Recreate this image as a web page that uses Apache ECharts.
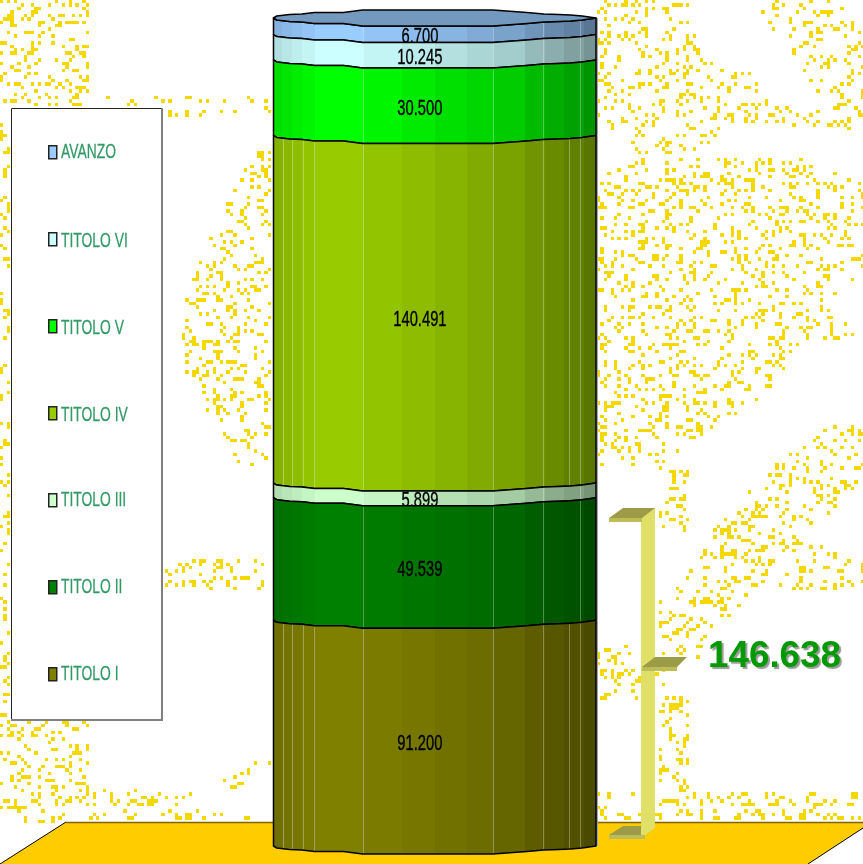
<!DOCTYPE html>
<html>
<head>
<meta charset="utf-8">
<style>
html,body{margin:0;padding:0;background:#fff;overflow:hidden}
#chart{width:863px;height:864px}
</style>
<script src="https://cdn.jsdelivr.net/npm/echarts@6/dist/echarts.min.js"></script>
</head>
<body>
<div id="chart"></div>
<script>
// data, top of the stack first so the legend reads like the picture
var names = ['AVANZO','TITOLO VI','TITOLO V','TITOLO IV','TITOLO III','TITOLO II','TITOLO I'];
var values = [6700,10245,30500,140491,5899,49539,91200];
var colors = ['#99CCFF','#CCFFFF','#00FF00','#99CC00','#CCFFCC','#008000','#808000'];
var bracketTotal = 146638;

// shading of the cylinder, left to right
var facetX = [0,.03,.06,.09,.13,.22,.28,.4,.5,.6,.68,.78,.84,.9,.96,1];
var facetShade = [.87,.9,.93,.96,1,1,.96,.92,.88,.84,.8,.73,.68,.63,.58];
// the wavy ellipse edge
var edgeX = [0,.01,.05,.088,.127,.217,.276,.393,.68,.786,.838,.885,.921,.957,1];
var edgeY = [0,2,3.5,4,5.5,5.5,8,8,8,5.5,4,3.5,3,2,0];
var paleAll = [.03,.057,.09,.127,.276,.68,.836,.916,.95];
var paleFew = [.276,.68,.836,.95];
// legend label heights are the picture's, the markers come from the legend itself
var legendLabelY = [152,241,328,415,500,587,674];

function shade(hex,k){
    var n = parseInt(hex.slice(1),16);
    var r = Math.round((n>>16&255)*k), g = Math.round((n>>8&255)*k), b = Math.round((n&255)*k);
    return 'rgb('+r+','+g+','+b+')';
}
function bandFill(hex,mult){
    var stops = [];
    for(var i=0;i<facetShade.length;i++){
        var c = shade(hex,facetShade[i]*(mult||1));
        stops.push({offset:facetX[i],color:c});
        stops.push({offset:facetX[i+1],color:c});
    }
    return new echarts.graphic.LinearGradient(0,0,1,0,stops);
}
function fmt(v){
    var s = String(v);
    return s.slice(0,-3)+'.'+s.slice(-3);
}

// build [0,from,to] for each band
var tops = [], run = 0;
for(var k=values.length-1;k>=0;k--){ tops[k] = [run,run+values[k]]; run += values[k]; }

function renderBand(idx){
    return function(params,api){
        var p0 = api.coord([0,api.value(1)]);
        var p1 = api.coord([0,api.value(2)]);
        var w = api.size([1,0])[0];
        var left = p0[0]-w/2, yb = p0[1], yt = p1[1];
        var pts = [], i;
        for(i=0;i<edgeX.length;i++) pts.push([left+edgeX[i]*w,yt+edgeY[i]]);
        for(i=edgeX.length-1;i>=0;i--) pts.push([left+edgeX[i]*w,yb+edgeY[i]]);
        var kids = [{
            type:'line',
            shape:{x1:left+w+1,y1:yt,x2:left+w+1,y2:yb},
            style:{stroke:'#A3A3A3',lineWidth:2}
        },{
            type:'polygon',
            shape:{points:pts},
            style:{fill:bandFill(colors[idx]),stroke:'#000',lineWidth:1.5,lineJoin:'round'}
        }];
        var pale = (idx===3||idx===6) ? paleAll : paleFew;
        pale.forEach(function(f){
            var x = Math.round(left+f*w)+.5, off = 0;
            for(i=1;i<edgeX.length;i++){
                if(f<=edgeX[i]){ off = edgeY[i-1]+(edgeY[i]-edgeY[i-1])*(f-edgeX[i-1])/(edgeX[i]-edgeX[i-1]); break; }
            }
            kids.push({type:'line',shape:{x1:x,y1:yt+off+1,x2:x,y2:yb+off-1},
                style:{stroke:'rgba(255,255,255,0.3)',lineWidth:1}});
        });
        if(idx===0){
            var cap = [];
            for(i=0;i<edgeX.length;i++) cap.push([left+edgeX[i]*w,yt+edgeY[i]]);
            for(i=edgeX.length-1;i>=0;i--) cap.push([left+edgeX[i]*w,yt-edgeY[i]]);
            kids.push({type:'polygon',shape:{points:cap},
                style:{fill:'#7399BF',stroke:'#000',lineWidth:1.5,lineJoin:'round'}});
        }
        kids.push({
            type:'text',
            x:left+.454*w,
            y:(yt+yb)/2+11,
            scaleX:.67,
            style:{text:fmt(values[idx]),fill:'#000',stroke:'#000',lineWidth:.35,font:'22px "Liberation Sans",Arial,sans-serif',
                textAlign:'center',textVerticalAlign:'middle'}
        });
        return {type:'group',children:kids};
    };
}

// background speckle: cells lit by a fixed hash inside hand-traced patches
var speckleAreas = [
    [[0,0],[88,0],[88,107],[0,107]],
    [[98,95],[270,95],[270,118],[165,118],[165,105],[98,105]],
    [[0,107],[11,107],[11,720],[0,720]],
    [[0,720],[88,720],[88,790],[270,790],[270,750],[255,760],[185,805],[270,820],[66,820],[0,862]],
    [[250,150],[272,150],[272,465],[240,465],[215,420],[190,390],[180,340],[185,300],[200,260],[230,200]],
    [[163,560],[272,560],[272,590],[163,590]],
    [[598,0],[690,0],[700,50],[720,65],[760,75],[770,105],[800,110],[863,100],[863,130],[790,125],[730,125],[700,155],[640,155],[598,120]],
    [[755,0],[835,0],[863,30],[863,110],[815,90],[790,50],[770,30]],
    [[640,157],[800,157],[863,185],[863,270],[825,305],[863,335],[800,345],[770,390],[735,415],[700,435],[680,450],[660,465],[598,475],[598,175]],
    [[863,415],[863,480],[800,540],[863,560],[863,590],[760,590],[720,625],[690,670],[640,700],[598,700],[598,650],[640,640],[660,600],[700,560],[720,520],[780,460],[830,425]],
    [[660,465],[688,465],[688,530],[660,530]],
    [[660,697],[688,697],[688,820],[660,820]],
    [[598,793],[863,793],[863,820],[598,820]]
];
function inPoly(x,y,poly){
    var c = false;
    for(var i=0,j=poly.length-1;i<poly.length;j=i++){
        if((poly[i][1]>y)!==(poly[j][1]>y) && x<(poly[j][0]-poly[i][0])*(y-poly[i][1])/(poly[j][1]-poly[i][1])+poly[i][0]) c=!c;
    }
    return c;
}
function cellHash(a,b){
    var h = (a*374761393 + b*668265263) | 0;
    h = Math.imul(h^(h>>>13),1274126177);
    return ((h^(h>>>16))>>>0)/4294967296;
}
var speckle = document.createElement('canvas');
speckle.width = 863; speckle.height = 864;
var sc = speckle.getContext('2d');
sc.fillStyle = '#F5D800';
var cell = 3.43;
for(var cy=0;cy<240;cy++){
    for(var cx=0;cx<252;cx++){
        var px = cx*cell, py = cy*cell;
        if(cellHash(cx,cy)>.18) continue;
        for(var a=0;a<speckleAreas.length;a++){
            if(inPoly(px+1.7,py+1.7,speckleAreas[a])){
                sc.fillRect(Math.round(px),Math.round(py),Math.round(px+cell)-Math.round(px),Math.round(py+cell)-Math.round(py));
                break;
            }
        }
    }
}

var series = names.map(function(n,i){
    return {
        name:n,
        type:'custom',
        coordinateSystem:'cartesian2d',
        renderItem:renderBand(i),
        itemStyle:{color:colors[i]},
        encode:{x:0,y:[1,2]},
        data:[[0,tops[i][0],tops[i][1]]],
        silent:true,
        z:2
    };
});

var elements = [
    {type:'image',z:0,x:0,y:0,silent:true,style:{image:speckle,width:863,height:864}},
    // floor
    {type:'polygon',z:1,silent:true,shape:{points:[[66,822],[863,822],[863,828],[808,864],[0,864]]},style:{fill:'#FFCC00'}},
    {type:'line',z:1,silent:true,shape:{x1:66,y1:822.5,x2:863,y2:822.5},style:{stroke:'#806600',lineWidth:1.5}},
    {type:'line',z:1,silent:true,shape:{x1:66,y1:822,x2:0,y2:864},style:{stroke:'#000',lineWidth:1}},
    {type:'line',z:1,silent:true,shape:{x1:863,y1:828,x2:808,y2:864},style:{stroke:'#000',lineWidth:1}},
    // legend box
    {type:'rect',z:1,silent:true,shape:{x:11.5,y:108.5,width:150,height:611},style:{fill:'#fff',stroke:'#222',lineWidth:1}},
    {type:'polyline',z:1,silent:true,shape:{points:[[162,108],[162,720],[11,720]]},style:{fill:'none',stroke:'#808080',lineWidth:2}},
    // bracket
    {type:'polygon',z:3,silent:true,shape:{points:[[641,518],[655,508],[655,828],[641,838]]},style:{fill:'#E0E068'}},
    {type:'polygon',z:3,silent:true,shape:{points:[[609,518],[623,508],[655,508],[642,518]]},style:{fill:'#9C9C48'}},
    {type:'rect',z:3,silent:true,shape:{x:609,y:518,width:33,height:4},style:{fill:'#BCBC58'}},
    {type:'polygon',z:3,silent:true,shape:{points:[[642,667],[655,657],[687,657],[677,667]]},style:{fill:'#9C9C48'}},
    {type:'rect',z:3,silent:true,shape:{x:642,y:667,width:35,height:4},style:{fill:'#BCBC58'}},
    {type:'polygon',z:3,silent:true,shape:{points:[[609,835],[623,826],[641,826],[641,835]]},style:{fill:'#9C9C48'}},
    {type:'rect',z:3,silent:true,shape:{x:609,y:835,width:36,height:4},style:{fill:'#BCBC58'}},
    {type:'text',z:3,silent:true,x:708,y:657,style:{
        text:fmt(bracketTotal),fill:'#009900',font:'bold 36.8px "Liberation Sans",Arial,sans-serif',
        textAlign:'left',textVerticalAlign:'middle',
        textShadowColor:'rgba(110,110,110,0.7)',textShadowOffsetX:2,textShadowOffsetY:2,textShadowBlur:1}}
];
// squeezed legend labels: the legend itself cannot scale text
names.forEach(function(n,i){
    elements.push({type:'text',z:5,silent:true,x:61,y:legendLabelY[i],scaleX:.66,style:{
        text:n,fill:'#339966',stroke:'#339966',lineWidth:.3,font:'21px "Liberation Sans",Arial,sans-serif',
        textAlign:'left',textVerticalAlign:'middle'}});
});

var option = {
    animation:false,
    grid:{left:273.5,right:267,top:18,bottom:18},
    xAxis:{type:'category',data:['totale'],show:false},
    yAxis:{type:'value',min:0,max:run,show:false},
    legend:{
        orient:'vertical',
        left:48,
        top:145,
        padding:0,
        itemGap:72.5,
        itemWidth:8,
        itemHeight:13,
        itemStyle:{borderColor:'#222',borderWidth:1.5},
        icon:'rect',
        data:names,
        selectedMode:false,
        formatter:function(){ return ''; }
    },
    series:series,
    graphic:{elements:elements}
};

var chart = echarts.init(document.getElementById('chart'));
chart.setOption(option);
</script>
</body>
</html>
